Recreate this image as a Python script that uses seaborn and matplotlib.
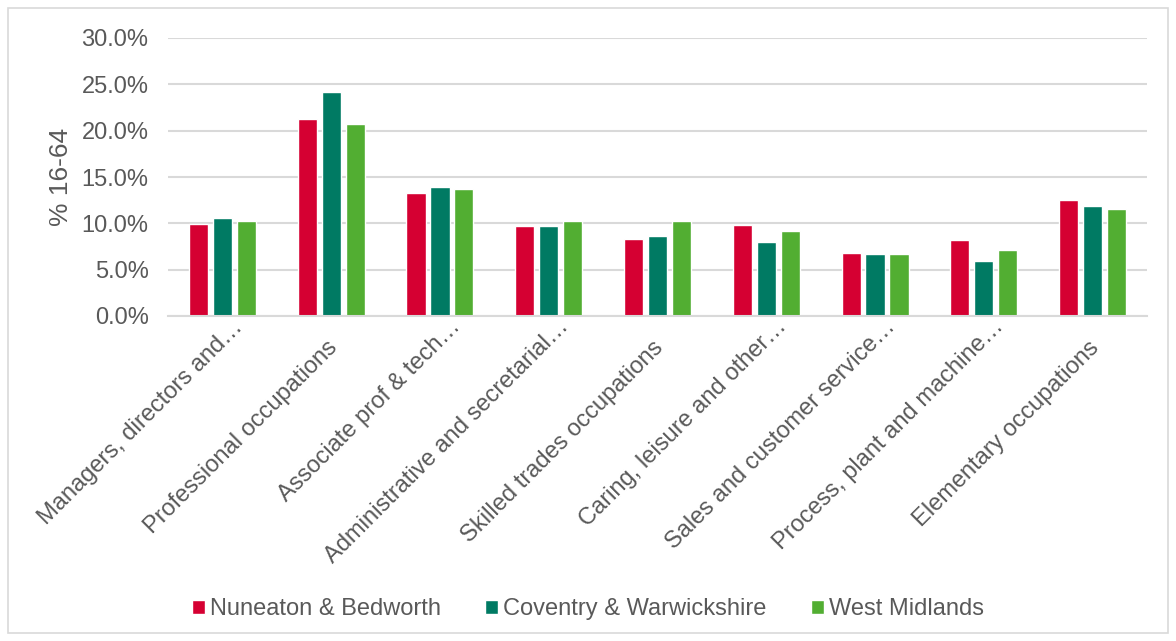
import pandas as pd
import matplotlib.pyplot as plt
import seaborn as sns
from matplotlib.patches import Rectangle
from matplotlib.ticker import PercentFormatter
from matplotlib.transforms import ScaledTranslation

# data (% of people aged 16-64)
occupations = [
    "Managers, directors and…",
    "Professional occupations",
    "Associate prof & tech…",
    "Administrative and secretarial…",
    "Skilled trades occupations",
    "Caring, leisure and other…",
    "Sales and customer service…",
    "Process, plant and machine…",
    "Elementary occupations",
]
nuneaton = [9.9, 21.3, 13.3, 9.7, 8.3, 9.8, 6.8, 8.2, 12.5]
coventry = [10.6, 24.2, 13.9, 9.7, 8.6, 8.0, 6.7, 5.9, 11.9]
west_mid = [10.3, 20.7, 13.7, 10.2, 10.2, 9.2, 6.7, 7.1, 11.5]

areas = ["Nuneaton & Bedworth", "Coventry & Warwickshire", "West Midlands"]
colours = ["#D50032", "#007A63", "#52AE32"]

# long table for seaborn
rows = []
for area, vals in zip(areas, [nuneaton, coventry, west_mid]):
    for occ, v in zip(occupations, vals):
        rows.append({"Occupation": occ, "Area": area, "Value": v})
df = pd.DataFrame(rows)

sns.set_theme(style="white")
plt.rcParams["font.family"] = ["Liberation Sans", "DejaVu Sans"]

text_grey = "#595959"

fig = plt.figure(figsize=(11.76, 6.41), dpi=100)
ax = fig.add_axes([168 / 1176, 1 - 316 / 641, (1147 - 168) / 1176, (316 - 38) / 641])

sns.barplot(
    data=df,
    x="Occupation",
    y="Value",
    hue="Area",
    palette=colours,
    width=0.66,
    gap=0.2,
    saturation=1,
    ax=ax,
)

ax.set_ylim(0, 30)
ax.set_yticks([0, 5, 10, 15, 20, 25, 30])
ax.yaxis.set_major_formatter(PercentFormatter(decimals=1))
ax.grid(axis="y", color="#D9D9D9", linewidth=1.5)
ax.set_axisbelow(True)

for side in ["top", "right", "left"]:
    ax.spines[side].set_visible(False)
ax.spines["bottom"].set_color("#D9D9D9")
ax.spines["bottom"].set_linewidth(1.5)

ax.tick_params(axis="y", labelsize=17, labelcolor=text_grey, length=0, pad=14)
ax.tick_params(axis="x", labelsize=17, labelcolor=text_grey, length=0, pad=15)

# rotated category labels; the cut-off ones ("…") sit a little further up-right
for lab in ax.get_xticklabels():
    lab.set_rotation(45)
    lab.set_ha("right")
    lab.set_va("top")
    lab.set_rotation_mode("anchor")
    if lab.get_text().endswith("…"):
        dx, dy = 9, 21
    else:
        dx, dy = -5, 0
    lab.set_transform(lab.get_transform()
                      + ScaledTranslation(dx / 100, dy / 100, fig.dpi_scale_trans))

ax.set_xlabel("")
ax.set_ylabel("% 16-64", fontsize=19, color=text_grey, labelpad=6)

ax.legend(
    loc="center",
    bbox_to_anchor=(0.5, (641 - 609) / 641),
    bbox_transform=fig.transFigure,
    ncol=3,
    frameon=False,
    fontsize=17,
    labelcolor=text_grey,
    handlelength=0.55,
    handleheight=0.55,
    handletextpad=0.2,
    columnspacing=1.9,
)

# light frame around the whole chart
fig.patches.append(
    Rectangle((8 / 1176, 8 / 641), 1160 / 1176, 625 / 641,
              transform=fig.transFigure, fill=False,
              edgecolor="#D9D9D9", linewidth=1.2)
)

fig.savefig("out.png", dpi=100)
